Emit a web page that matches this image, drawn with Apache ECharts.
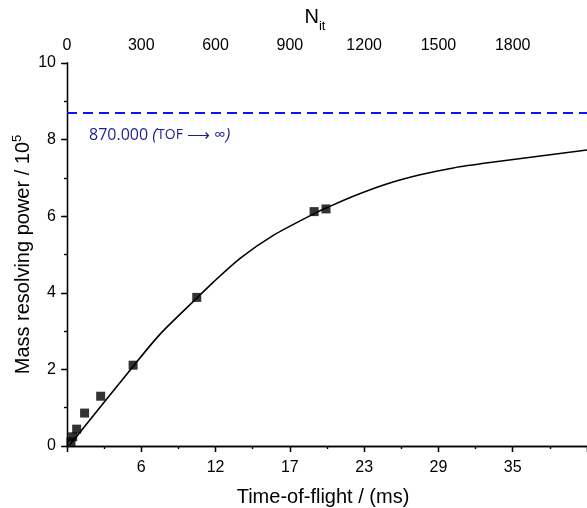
<!DOCTYPE html>
<html>
<head>
<meta charset="utf-8">
<script src="https://cdn.jsdelivr.net/npm/echarts@6/dist/echarts.min.js"></script>
<style>
html,body{margin:0;padding:0;background:#fff;}
#c{width:587px;height:508px;}
</style>
</head>
<body>
<div id="c"></div>
<script>
// Measured points: number of iterations (top axis) vs resolving power (x 10^5)
const nIterations = [16, 23, 39, 71, 136, 267, 524, 998, 1046];
const resolvingPower = [0.11, 0.24, 0.44, 0.86, 1.30, 2.11, 3.88, 6.12, 6.19];
// Fit curve
const fitN = [12, 266, 376, 524, 591, 699, 833, 1002, 1049, 1156, 1291, 1426, 1560, 1708, 2100];
const fitR = [0.03, 2.07, 2.92, 3.86, 4.28, 4.90, 5.50, 6.08, 6.22, 6.52, 6.84, 7.08, 7.26, 7.40, 7.73];
// Asymptotic limit
const asymptoteValue = 8.7;
const asymptoteText = '870.000';
// Tick labels
const topTickLabels = ['0', '300', '600', '900', '1200', '1500', '1800'];
const bottomTickLabels = ['', '6', '12', '17', '23', '29', '35'];
const yTickLabels = ['0', '2', '4', '6', '8', '10'];

const FONT = 'Liberation Sans, Arial, sans-serif';
const AFONT = 'Open Sans, Noto Sans, sans-serif';
const chart = echarts.init(document.getElementById('c'), null, {renderer: 'canvas'});

const points = nIterations.map((n, i) => [n, resolvingPower[i]]);
const fit = fitN.map((n, i) => [n, fitR[i]]);

const axisLineStyle = {color: '#000', width: 1.3};

chart.setOption({
  backgroundColor: '#fff',
  animation: false,
  grid: {left: 67, right: 0, top: 63, bottom: 62, containLabel: false, outerBoundsMode: 'none'},
  xAxis: [
    {
      type: 'value', position: 'bottom', min: 0, max: 2100, interval: 300,
      name: 'Time-of-flight / (ms)', nameLocation: 'middle', nameGap: 41,
      nameTextStyle: {fontFamily: FONT, fontSize: 20, color: '#000', padding: [0, 8, 0, 0]},
      axisLine: {show: true, lineStyle: axisLineStyle},
      axisTick: {show: true, inside: false, length: 6, lineStyle: axisLineStyle},
      minorTick: {show: true, splitNumber: 2, length: 3, lineStyle: {color: '#000', width: 1.2}},
      axisLabel: {
        fontFamily: FONT, fontSize: 16, color: '#000', margin: 14, showMaxLabel: false,
        formatter: v => { const k = Math.round(v / 300); return bottomTickLabels[k] !== undefined ? bottomTickLabels[k] : ''; }
      },
      splitLine: {show: false}
    },
    {
      type: 'value', position: 'top', min: 0, max: 2100, interval: 300,
      name: '{n|N}{s|it}', nameLocation: 'middle', nameGap: 35,
      nameTextStyle: {
        padding: [0, 24, 0, 0],
        rich: {
          n: {fontFamily: FONT, fontSize: 20, color: '#000', verticalAlign: 'bottom', lineHeight: 22},
          s: {fontFamily: FONT, fontSize: 13, color: '#000', verticalAlign: 'bottom', lineHeight: 14, padding: [0, 0, -6, 0]}
        }
      },
      axisLine: {show: true, lineStyle: axisLineStyle},
      axisTick: {show: true, inside: true, length: 6, lineStyle: axisLineStyle},
      minorTick: {show: true, splitNumber: 2, length: 3, lineStyle: {color: '#000', width: 1.2}},
      axisLabel: {
        fontFamily: FONT, fontSize: 16, color: '#000', margin: 9, showMaxLabel: false,
        formatter: v => { const k = Math.round(v / 300); return topTickLabels[k] !== undefined ? topTickLabels[k] : ''; }
      },
      splitLine: {show: false}
    }
  ],
  yAxis: [
    {
      type: 'value', position: 'left', min: 0, max: 10, interval: 2,
      name: 'Mass resolving power / 10{sup|5}', nameLocation: 'middle', nameGap: 32, nameRotate: 90,
      nameMoveOverlap: false,
      nameTextStyle: {fontFamily: FONT, fontSize: 20, color: '#000',
        rich: {sup: {fontFamily: FONT, fontSize: 13, color: '#000', padding: [0, 0, 11, 0]}}},
      axisLine: {show: true, lineStyle: axisLineStyle},
      axisTick: {show: true, inside: false, length: 5, lineStyle: axisLineStyle},
      minorTick: {show: true, splitNumber: 2, length: 3, lineStyle: {color: '#000', width: 1.2}},
      axisLabel: {fontFamily: FONT, fontSize: 16, color: '#000', margin: 11,
        formatter: v => yTickLabels[Math.round(v / 2)]},
      splitLine: {show: false}
    },
    {
      type: 'value', position: 'right', min: 0, max: 10, interval: 2,
      axisLine: {show: true, lineStyle: axisLineStyle},
      axisTick: {show: true, inside: true, length: 6, lineStyle: axisLineStyle},
      minorTick: {show: true, splitNumber: 2, length: 3, lineStyle: {color: '#000', width: 1.2}},
      axisLabel: {show: false},
      splitLine: {show: false}
    }
  ],
  series: [
    {
      type: 'line', name: 'fit', data: fit, smooth: 0.25, showSymbol: false, symbol: 'none',
      lineStyle: {color: '#000', width: 1.6}, z: 2,
      markLine: {
        silent: true, symbol: 'none',
        lineStyle: {color: '#1010ff', width: 2, type: [10, 6]},
        label: {
          show: true, position: 'insideStartBottom', distance: [22, 14],
          formatter: asymptoteText + ' {i|(}{sc|TOF} ⟶ ∞{i|)}',
          fontFamily: AFONT, fontSize: 16, color: '#1f1f90',
          rich: {
            i: {fontFamily: AFONT, fontSize: 17, fontStyle: 'italic', color: '#1f1f90'},
            sc: {fontFamily: AFONT, fontSize: 14, color: '#1f1f90'}
          }
        },
        data: [{yAxis: asymptoteValue}]
      }
    },
    {
      type: 'scatter', name: 'data', data: points, symbol: 'rect', symbolSize: 9,
      itemStyle: {color: '#000'}, z: 3
    }
  ]
});
</script>
</body>
</html>
